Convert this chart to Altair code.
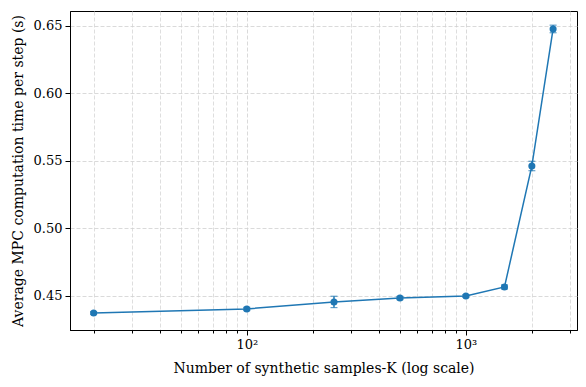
import altair as alt
import pandas as pd

K = [20, 100, 250, 500, 1000, 1500, 2000, 2500]
mean_time = [0.4374, 0.4404, 0.4456, 0.4485, 0.4500, 0.4567, 0.5463, 0.6478]
std_time = [0.0010, 0.0012, 0.0042, 0.0012, 0.0010, 0.0015, 0.0035, 0.0028]
major_ticks = [100, 1000]
minor_ticks = [20, 30, 40, 50, 60, 70, 80, 90,
               200, 300, 400, 500, 600, 700, 800, 900, 2000, 3000]
y_ticks = [0.45, 0.50, 0.55, 0.60, 0.65]

df = pd.DataFrame({"K": K, "mean": mean_time, "std": std_time})
df["lo"] = df["mean"] - df["std"]
df["hi"] = df["mean"] + df["std"]

FONT = "DejaVu Serif"
BLUE = "#1f77b4"
xscale = alt.Scale(type="log", domain=[15.6, 3214], nice=False)
yscale = alt.Scale(domain=[0.4248, 0.6611], nice=False, zero=False)

yaxis = alt.Axis(values=y_ticks, format=".2f", tickSize=5, grid=True,
                 gridDash=[4, 2], gridColor="#d0d0d0", labelPadding=3,
                 title="Average MPC computation time per step (s)", titlePadding=8)

minor_axis = alt.Axis(values=minor_ticks, labels=False, tickSize=3, grid=True,
                      gridDash=[4, 2], gridColor="#d6d6d6", title=None, orient="bottom")
major_axis = alt.Axis(values=major_ticks, tickSize=5, grid=True, gridDash=[4, 2],
                      gridColor="#d0d0d0", orient="bottom",
                      labelExpr="datum.value == 100 ? '10²' : '10³'",
                      title="Number of synthetic samples-K (log scale)", titlePadding=10,
                      labelPadding=3)

base = alt.Chart(df)
Y = lambda f: alt.Y(f, scale=yscale, axis=yaxis)

line = base.mark_line(color=BLUE, strokeWidth=1.5).encode(
    x=alt.X("K:Q", scale=xscale, axis=minor_axis),
    y=Y("mean:Q"),
)
points = base.mark_point(filled=True, color=BLUE, size=50, opacity=1).encode(
    x=alt.X("K:Q", scale=xscale, axis=major_axis),
    y=Y("mean:Q"),
)
err = base.mark_rule(color=BLUE, strokeWidth=1.5).encode(
    x=alt.X("K:Q", scale=xscale, axis=None),
    y=Y("lo:Q"),
    y2="hi:Q",
)
cap_lo = base.mark_tick(color=BLUE, orient="horizontal", size=7, thickness=1.2).encode(
    x=alt.X("K:Q", scale=xscale, axis=None),
    y=Y("lo:Q"),
)
cap_hi = base.mark_tick(color=BLUE, orient="horizontal", size=7, thickness=1.2).encode(
    x=alt.X("K:Q", scale=xscale, axis=None),
    y=Y("hi:Q"),
)

chart = alt.layer(line, points, err, cap_lo, cap_hi).resolve_axis(
    x="independent"
).properties(
    width=507, height=319,
    autosize=alt.AutoSizeParams(type="none"),
    padding={"left": 62, "top": 3, "right": 1, "bottom": 49},
).configure_view(
    stroke="black", strokeWidth=1
).configure_axis(
    labelFont=FONT, titleFont=FONT, labelFontSize=13, titleFontSize=14,
    titleFontWeight="normal", labelColor="black", titleColor="black",
    domainColor="black", tickColor="black", domainWidth=1, tickWidth=1,
    gridWidth=0.8,
)

chart.save("out.html", embed_options={"renderer": "svg", "actions": False})
